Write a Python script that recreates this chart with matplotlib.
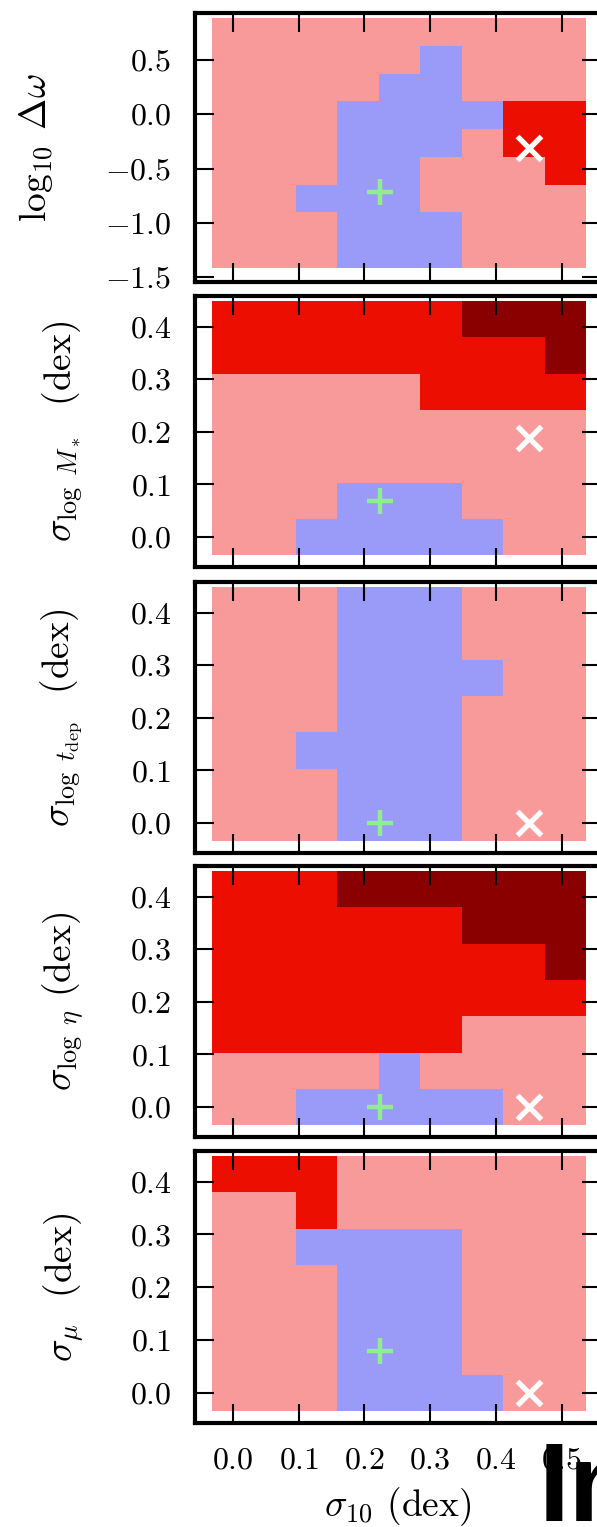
import numpy as np
import matplotlib
matplotlib.use("Agg")
import matplotlib.pyplot as plt
from matplotlib.colors import ListedColormap, BoundaryNorm
from matplotlib.ticker import FuncFormatter

# ---------------- data ----------------
# grid sample values (cell centres)
sigma10 = [0.0, 0.063, 0.127, 0.190, 0.253, 0.317, 0.380, 0.443, 0.506]
log_dw_rows = [0.758, 0.502, 0.246, -0.010, -0.266, -0.521, -0.777, -1.033, -1.288]  # top -> bottom
sigma_rows = [0.414, 0.345, 0.276, 0.207, 0.138, 0.069, 0.0]                         # top -> bottom

# category per cell: P = pink, B = blue, R = red, D = dark red (rows top -> bottom)
grid_dw = ["PPPPPPPPP",
           "PPPPPBPPP",
           "PPPPBBPPP",
           "PPPBBBBRR",
           "PPPBBBPRR",
           "PPPBBPPPR",
           "PPBBBPPPP",
           "PPPBBBPPP",
           "PPPBBBPPP"]
grid_mstar = ["RRRRRRDDD",
              "RRRRRRRRD",
              "PPPPPRRRR",
              "PPPPPPPPP",
              "PPPPPPPPP",
              "PPPBBBPPP",
              "PPBBBBBPP"]
grid_tdep = ["PPPBBBPPP",
             "PPPBBBPPP",
             "PPPBBBBPP",
             "PPPBBBPPP",
             "PPBBBBPPP",
             "PPPBBBPPP",
             "PPPBBBPPP"]
grid_eta = ["RRRDDDDDD",
            "RRRRRRDDD",
            "RRRRRRRRD",
            "RRRRRRRRR",
            "RRRRRRPPP",
            "PPPPBPPPP",
            "PPBBBBBPP"]
grid_mu = ["RRRPPPPPP",
           "PPRPPPPPP",
           "PPBBBBPPP",
           "PPPBBBPPP",
           "PPPBBBPPP",
           "PPPBBBPPP",
           "PPPBBBBPP"]

ylabels = [r"$\log_{10}\;\Delta\omega$",
           r"$\sigma_{\log\ M_*}$  (dex)",
           r"$\sigma_{\log\ t_{\rm dep}}$  (dex)",
           r"$\sigma_{\log\ \eta}$ (dex)",
           r"$\sigma_{\mu}$  (dex)"]
xlabel = r"$\sigma_{10}$ (dex)"

plus_x = [0.224, 0.224, 0.224, 0.224, 0.224]
plus_y = [-0.72, 0.068, 0.0, 0.0, 0.08]
cross_x = [0.451, 0.451, 0.451, 0.451, 0.451]
cross_y = [-0.31, 0.188, 0.0, 0.0, 0.0]

xticks = [0.0, 0.1, 0.2, 0.3, 0.4, 0.5]
yticks_dw = [-1.5, -1.0, -0.5, 0.0, 0.5]
yticks_sig = [0.0, 0.1, 0.2, 0.3, 0.4]

# ---------------- style ----------------
plt.rcParams["font.family"] = "serif"
plt.rcParams["font.serif"] = ["cmr10", "DejaVu Serif"]
plt.rcParams["mathtext.fontset"] = "cm"
plt.rcParams["axes.formatter.use_mathtext"] = True

cat_codes = {"P": 0, "B": 1, "R": 2, "D": 3}
cmap = ListedColormap(["#f89a9a", "#9a9af8", "#ec0e00", "#8a0000"])
norm = BoundaryNorm([-0.5, 0.5, 1.5, 2.5, 3.5], cmap.N)
fmt = FuncFormatter(lambda v, p: "$%.1f$" % v)


def edges(centres):
    c = np.sort(np.asarray(centres, dtype=float))
    mid = (c[1:] + c[:-1]) / 2
    return np.concatenate([[c[0] - (c[1] - c[0]) / 2], mid, [c[-1] + (c[-1] - c[-2]) / 2]])


def grid_to_array(rows):
    arr = np.array([[cat_codes[ch] for ch in r] for r in rows])
    return arr[::-1]  # bottom -> top


W, H = 597, 1527
fig = plt.figure(figsize=(W / 100, H / 100), dpi=100)

tops = [13, 296, 582, 866, 1151]
bots = [282, 567, 853, 1137, 1423]
left_px, right_px = 195, 601

grids = [grid_dw, grid_mstar, grid_tdep, grid_eta, grid_mu]
row_vals = [log_dw_rows, sigma_rows, sigma_rows, sigma_rows, sigma_rows]
ylims = [(-1.545, 0.932), (-0.057, 0.458), (-0.057, 0.458), (-0.057, 0.458), (-0.057, 0.458)]
label_x = [-0.345, -0.27, -0.27, -0.27, -0.27]

xe = edges(sigma10)
for i in range(5):
    ax = fig.add_axes([left_px / W, 1 - bots[i] / H,
                       (right_px - left_px) / W, (bots[i] - tops[i]) / H])
    ye = edges(row_vals[i])
    ax.pcolormesh(xe, ye, grid_to_array(grids[i]), cmap=cmap, norm=norm,
                  shading="flat", linewidth=0, antialiased=False)
    ax.plot(plus_x[i], plus_y[i], marker="+", ms=19, mew=3.2, color="#90ee90", ls="none")
    ax.plot(cross_x[i], cross_y[i], marker="x", ms=17, mew=3.8, color="white", ls="none")
    ax.set_xlim(-0.058, 0.56)
    ax.set_ylim(*ylims[i])
    ax.set_xticks(xticks)
    ax.set_yticks(yticks_dw if i == 0 else yticks_sig)
    ax.yaxis.set_major_formatter(fmt)
    ax.xaxis.set_major_formatter(fmt)
    ax.tick_params(direction="in", length=14, width=1.5, top=True, right=True,
                   labelsize=23, pad=17, colors="black")
    if i < 4:
        ax.tick_params(labelbottom=False)
    for s in ax.spines.values():
        s.set_linewidth(3.0)
    ax.set_ylabel(ylabels[i], fontsize=27)
    ax.yaxis.set_label_coords(label_x[i], 0.5)
    if i == 4:
        ax.set_xlabel(xlabel, fontsize=27, labelpad=8)

fig.text(539 / W, 6 / H, "In", fontsize=80, fontweight="bold",
         family="Liberation Sans", color="black", ha="left", va="baseline")

fig.savefig("out.png", dpi=100)
